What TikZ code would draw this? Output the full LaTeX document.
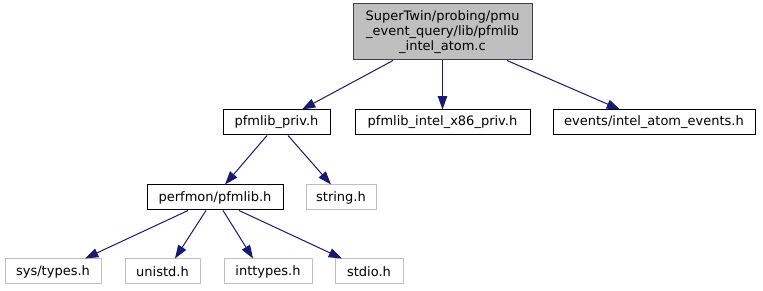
\documentclass[tikz,border=0pt]{standalone}
\usepackage{fontspec}
\setmainfont{DejaVu Sans}
\usetikzlibrary{arrows.meta,calc}
\definecolor{edgeblue}{HTML}{191970}
\definecolor{rootfill}{HTML}{BFBFBF}
\definecolor{rootline}{HTML}{404040}
\definecolor{extline}{HTML}{BFBFBF}
\begin{document}
\begin{tikzpicture}[x=0.75pt,y=-0.75pt,
  box/.style={draw=black, line width=0.75pt, fill=white, rectangle, inner sep=0pt,
    minimum height=18.75pt, font=\fontsize{9.75}{11.25}\selectfont, align=center},
  rootbox/.style={box, draw=rootline, fill=rootfill},
  extbox/.style={box, draw=extline},
  dep/.style={draw=edgeblue, line width=0.75pt, -{Triangle[length=10pt,width=7pt]}}]
  \useasboundingbox (0,0) rectangle (763,291);
  % root source file
  \node[rootbox, minimum width=134.25pt, minimum height=42pt] (root) at (442.5,32)
    {SuperTwin/probing/pmu\\\_event\_query/lib/pfmlib\\\_intel\_atom.c};
  % first-level includes
  \node[box, minimum width=80.25pt] (priv) at (276.5,122.5) {pfmlib\_priv.h};
  \node[box, minimum width=131.25pt] (x86) at (442.5,122.5) {pfmlib\_intel\_x86\_priv.h};
  \node[box, minimum width=151.5pt] (events) at (654,122.5) {events/intel\_atom\_events.h};
  % second level
  \node[box, minimum width=102pt] (pfmlib) at (215,197.5) {perfmon/pfmlib.h};
  \node[extbox, minimum width=52.5pt] (string) at (341,197.5) {string.h};
  % system headers
  \node[extbox, minimum width=72pt] (systypes) at (53,271.5) {sys/types.h};
  \node[extbox, minimum width=56.25pt] (unistd) at (162.5,271.5) {unistd.h};
  \node[extbox, minimum width=66pt] (inttypes) at (268,271.5) {inttypes.h};
  \node[extbox, minimum width=51pt] (stdio) at (369,271.5) {stdio.h};
  % include edges
  \draw[dep] ($(root.south)+(-49.5,0)$) -- ($(priv.north)+(25.5,0)$);
  \draw[dep] (root.south) -- (root.south |- x86.north);
  \draw[dep] ($(root.south)+(64.5,0)$) -- ($(events.north)+(-34,0)$);
  \draw[dep] ($(priv.south)+(-9.5,0)$) -- ($(pfmlib.north)+(10,0)$);
  \draw[dep] ($(priv.south)+(11.5,0)$) -- ($(string.north)+(-10,0)$);
  \draw[dep] ($(pfmlib.south)+(-27,0)$) -- ($(systypes.north)+(32,0)$);
  \draw[dep] ($(pfmlib.south)+(-9,0)$) -- ($(unistd.north)+(12.5,0)$);
  \draw[dep] ($(pfmlib.south)+(8,0)$) -- ($(inttypes.north)+(-15,0)$);
  \draw[dep] ($(pfmlib.south)+(24,0)$) -- ($(stdio.north)+(-27,0)$);
\end{tikzpicture}
\end{document}
